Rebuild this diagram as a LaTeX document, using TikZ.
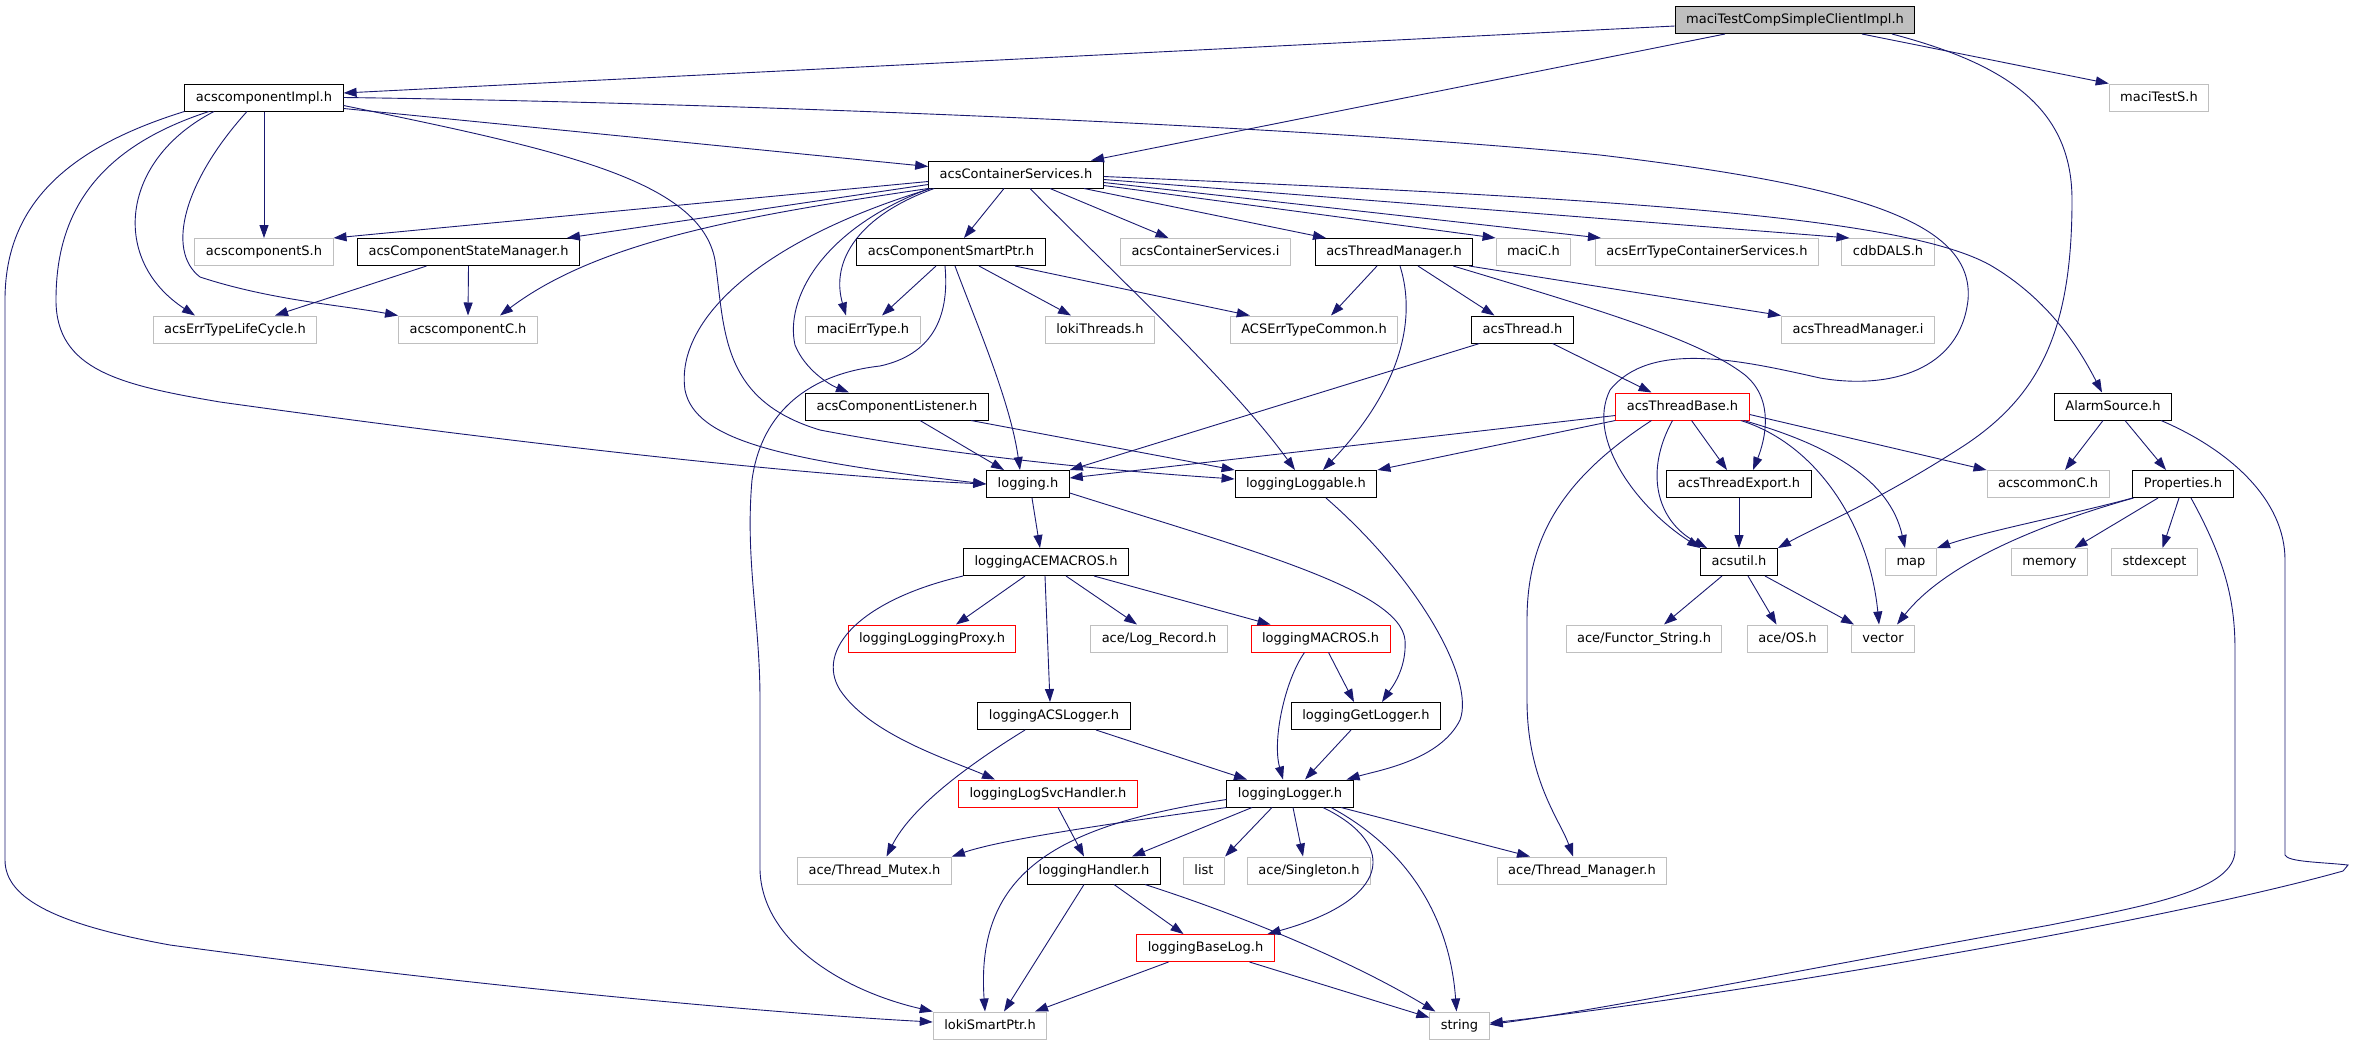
\documentclass[tikz,border=0pt]{standalone}
\usepackage{fontspec}
\setmainfont{DejaVu Sans}
\usepackage{tikz}
\usetikzlibrary{arrows.meta}
\definecolor{edgeblue}{HTML}{191970}
\definecolor{extgray}{HTML}{BFBFBF}
\tikzstyle{docfile} = [rectangle, draw=black, fill=white, line width=1pt, minimum height=27pt, inner xsep=11pt, text height=9.5pt, text depth=2.5pt, font=\fontsize{13pt}{15pt}\selectfont]
\tikzstyle{extfile} = [docfile, draw=extgray]
\tikzstyle{cutfile} = [docfile, draw=red]
\tikzstyle{mainfile} = [docfile, fill=extgray]
\tikzstyle{arrow} = [draw=edgeblue, line width=0.9pt, -{Triangle[length=13pt,width=9pt]}]

\begin{document}
\begin{tikzpicture}[x=1pt, y=-1pt]
        \useasboundingbox (0,0) rectangle (2355,1045);
        \node (simpleClient) [mainfile] at (1795,20) {maciTestCompSimpleClientImpl.h};
        \node (testS) [extfile] at (2159,97.5) {maciTestS.h};
        \node (compImpl) [docfile] at (264,97.5) {acscomponentImpl.h};
        \node (contServices) [docfile] at (1016,174.5) {acsContainerServices.h};
        \node (compS) [extfile] at (264,252) {acscomponentS.h};
        \node (stateMgr) [docfile] at (468.5,252) {acsComponentStateManager.h};
        \node (smartPtr) [docfile] at (951,252) {acsComponentSmartPtr.h};
        \node (contServicesI) [extfile] at (1205.5,252) {acsContainerServices.i};
        \node (threadMgr) [docfile] at (1394,252) {acsThreadManager.h};
        \node (maciC) [extfile] at (1533.5,252) {maciC.h};
        \node (errContServices) [extfile] at (1707,252) {acsErrTypeContainerServices.h};
        \node (cdbDALS) [extfile] at (1888,252) {cdbDALS.h};
        \node (errLifeCycle) [extfile] at (235,329.5) {acsErrTypeLifeCycle.h};
        \node (compC) [extfile] at (468,329.5) {acscomponentC.h};
        \node (maciErrType) [extfile] at (863,329.5) {maciErrType.h};
        \node (lokiThreads) [extfile] at (1100,329.5) {lokiThreads.h};
        \node (errCommon) [extfile] at (1314,329.5) {ACSErrTypeCommon.h};
        \node (acsThread) [docfile] at (1522.5,329.5) {acsThread.h};
        \node (threadMgrI) [extfile] at (1858,329.5) {acsThreadManager.i};
        \node (compListener) [docfile] at (897,406.5) {acsComponentListener.h};
        \node (threadBase) [cutfile] at (1682.5,406.5) {acsThreadBase.h};
        \node (alarmSource) [docfile] at (2113,406.5) {AlarmSource.h};
        \node (logging) [docfile] at (1028,484) {logging.h};
        \node (loggable) [docfile] at (1306,484) {loggingLoggable.h};
        \node (threadExport) [docfile] at (1739,484) {acsThreadExport.h};
        \node (commonC) [extfile] at (2048,484) {acscommonC.h};
        \node (properties) [docfile] at (2183,484) {Properties.h};
        \node (aceMacros) [docfile] at (1046,562) {loggingACEMACROS.h};
        \node (acsutil) [docfile] at (1739,562) {acsutil.h};
        \node (stdMap) [extfile] at (1911,562) {map};
        \node (stdMemory) [extfile] at (2049.5,562) {memory};
        \node (stdExcept) [extfile] at (2154.5,562) {stdexcept};
        \node (loggingProxy) [cutfile] at (932,638.5) {loggingLoggingProxy.h};
        \node (logRecord) [extfile] at (1159,638.5) {ace/Log\_Record.h};
        \node (loggingMacros) [cutfile] at (1320.5,638.5) {loggingMACROS.h};
        \node (functorString) [extfile] at (1644,638.5) {ace/Functor\_String.h};
        \node (aceOS) [extfile] at (1787.5,638.5) {ace/OS.h};
        \node (stdVector) [extfile] at (1883,638.5) {vector};
        \node (acsLogger) [docfile] at (1054,716) {loggingACSLogger.h};
        \node (getLogger) [docfile] at (1366,716) {loggingGetLogger.h};
        \node (logSvcHandler) [cutfile] at (1048,793.5) {loggingLogSvcHandler.h};
        \node (logger) [docfile] at (1290,793.5) {loggingLogger.h};
        \node (threadMutex) [extfile] at (874.5,870.5) {ace/Thread\_Mutex.h};
        \node (handler) [docfile] at (1094,870.5) {loggingHandler.h};
        \node (stdList) [extfile] at (1204,870.5) {list};
        \node (singleton) [extfile] at (1309,870.5) {ace/Singleton.h};
        \node (threadManagerAce) [extfile] at (1582,870.5) {ace/Thread\_Manager.h};
        \node (baseLog) [cutfile] at (1205.5,948) {loggingBaseLog.h};
        \node (lokiSmartPtr) [extfile] at (990,1025.5) {lokiSmartPtr.h};
        \node (stdString) [extfile] at (1459.5,1025.5) {string};

        \draw [arrow] ([yshift=-6pt]simpleClient.west) -- ([yshift=4.5pt]compImpl.east);
        \draw [arrow] ([xshift=-70pt]simpleClient.south) -- ([xshift=75pt]contServices.north);
        \draw [arrow] ([xshift=67pt]simpleClient.south) -- (testS.north west);
        \draw [arrow] ([xshift=97pt]simpleClient.south) .. controls (2010,65) and (2072,110) .. (2072,200) .. controls (2072,330) and (2040,395) .. (1965,445) .. controls (1880,500) and (1820,525) .. (acsutil.north east);

        \draw [arrow] (compImpl.south) -- (compS.north);
        \draw [arrow] ([xshift=-50pt]compImpl.south) .. controls (120,160) and (110,260) .. ([xshift=-40pt]errLifeCycle.north);
        \draw [arrow] ([xshift=-17pt]compImpl.south) .. controls (185,180) and (165,250) .. (200,277) .. controls (270,300) and (340,305) .. (compC.north west);
        \draw [arrow] ([xshift=-55pt]compImpl.south) .. controls (90,150) and (56,220) .. (56,300) .. controls (56,370) and (120,385) .. (220,402) .. controls (600,455) and (850,478) .. (logging.west);
        \draw [arrow] (compImpl.south west) .. controls (60,150) and (5,210) .. (5,300) -- (5,860) .. controls (5,900) and (60,925) .. (170,945) .. controls (500,990) and (800,1015) .. ([yshift=3.5pt]lokiSmartPtr.west);
        \draw [arrow] ([yshift=-8pt]compImpl.east) .. controls (560,150) and (700,180) .. (715,260) .. controls (725,330) and (720,400) .. (820,430) .. controls (950,455) and (1100,470) .. ([yshift=5pt]loggable.west);
        \draw [arrow] ([yshift=-11pt]compImpl.east) -- ([yshift=8pt]contServices.west);
        \draw [arrow] (compImpl.east) .. controls (700,102) and (1300,125) .. (1600,155) .. controls (1850,185) and (1975,220) .. (1968,300) .. controls (1960,370) and (1890,390) .. (1820,378) .. controls (1740,360) and (1650,340) .. (1610,390) .. controls (1585,440) and (1640,510) .. (acsutil.north west);

        \draw [arrow] ([yshift=-7pt]contServices.west) -- (compS.north east);
        \draw [arrow] ([yshift=-10pt]contServices.west) -- ([xshift=-13pt]stateMgr.north east);
        \draw [arrow] (contServices.south west) .. controls (750,215) and (600,240) .. ([xshift=32pt]compC.north);
        \draw [arrow] ([xshift=3pt]contServices.south west) .. controls (760,240) and (675,320) .. (685,390) .. controls (695,440) and (780,460) .. (logging.west);
        \draw [arrow] ([xshift=6pt]contServices.south west) .. controls (860,215) and (830,260) .. ([xshift=-17pt]maciErrType.north);
        \draw [arrow] ([xshift=1pt]contServices.south west) .. controls (820,230) and (785,300) .. (795,345) .. controls (805,370) and (830,385) .. ([xshift=-48pt]compListener.north);
        \draw [arrow] ([xshift=-12pt]contServices.south) -- ([xshift=13pt]smartPtr.north);
        \draw [arrow] ([xshift=14pt]contServices.south) .. controls (1100,260) and (1230,380) .. ([xshift=-11pt]loggable.north);
        \draw [arrow] ([xshift=34pt]contServices.south) -- ([xshift=-37pt]contServicesI.north);
        \draw [arrow] ([xshift=68pt]contServices.south) -- ([xshift=-68pt]threadMgr.north);
        \draw [arrow] ([yshift=-11pt]contServices.east) -- (maciC.north west);
        \draw [arrow] ([yshift=-8pt]contServices.east) -- ([xshift=6pt]errContServices.north west);
        \draw [arrow] ([yshift=-5pt]contServices.east) -- ([xshift=8pt]cdbDALS.north west);
        \draw [arrow] ([yshift=-2pt]contServices.east) .. controls (1600,198) and (1900,215) .. (1990,265) .. controls (2050,300) and (2080,350) .. ([xshift=-11pt]alarmSource.north);

        \draw [arrow] ([xshift=-15pt]smartPtr.south) -- ([xshift=19pt]maciErrType.north);
        \draw [arrow] ([xshift=28pt]smartPtr.south) -- ([xshift=-29pt]lokiThreads.north);
        \draw [arrow] ([xshift=64pt]smartPtr.south) -- ([xshift=20pt]errCommon.north west);
        \draw [arrow] ([xshift=4pt]smartPtr.south) .. controls (975,320) and (1010,400) .. ([xshift=-8pt]logging.north);
        \draw [arrow] ([xshift=-6pt]smartPtr.south) .. controls (950,320) and (930,355) .. (880,366) .. controls (800,375) and (760,420) .. (752,480) .. controls (745,560) and (760,620) .. (760,700) -- (760,870) .. controls (762,940) and (840,990) .. (lokiSmartPtr.north west);

        \draw [arrow] ([xshift=-42pt]stateMgr.south) -- ([xshift=40pt]errLifeCycle.north);
        \draw [arrow] (stateMgr.south) -- (compC.north);

        \draw [arrow] ([xshift=-17pt]threadMgr.south) -- ([xshift=17pt]errCommon.north);
        \draw [arrow] ([xshift=6pt]threadMgr.south) .. controls (1420,330) and (1390,400) .. ([xshift=17pt]loggable.north);
        \draw [arrow] ([xshift=24pt]threadMgr.south) -- ([xshift=-28pt]acsThread.north);
        \draw [arrow] ([xshift=-4pt]threadMgr.south east) -- (threadMgrI.north west);
        \draw [arrow] ([xshift=-20pt]threadMgr.south east) .. controls (1600,310) and (1700,340) .. (1745,375) .. controls (1775,400) and (1765,440) .. ([xshift=14pt]threadExport.north);

        \draw [arrow] ([xshift=30pt]acsThread.south) -- ([xshift=-31pt]threadBase.north);
        \draw [arrow] ([xshift=-43pt]acsThread.south) -- (logging.north east);

        \draw [arrow] ([yshift=-9pt]threadBase.west) -- ([yshift=6pt]logging.east);
        \draw [arrow] (threadBase.south west) -- (loggable.north east);
        \draw [arrow] ([xshift=9pt]threadBase.south) -- ([xshift=-12pt]threadExport.north);
        \draw [arrow] ([xshift=-10pt]threadBase.south) .. controls (1645,470) and (1655,520) .. ([xshift=-32pt]acsutil.north);
        \draw [arrow] ([xshift=-6pt]threadBase.south east) .. controls (1830,445) and (1890,480) .. ([xshift=-6pt]stdMap.north);
        \draw [arrow] ([xshift=-9pt]threadBase.south east) .. controls (1820,445) and (1870,530) .. ([xshift=-4pt]stdVector.north);
        \draw [arrow] ([yshift=-8pt]threadBase.east) -- (commonC.north west);
        \draw [arrow] ([xshift=-31pt]threadBase.south) .. controls (1560,480) and (1527,540) .. (1527,620) -- (1527,700) .. controls (1527,780) and (1560,820) .. ([xshift=-9pt]threadManagerAce.north);

        \draw [arrow] ([xshift=-10pt]alarmSource.south) -- ([xshift=17pt]commonC.north);
        \draw [arrow] ([xshift=12pt]alarmSource.south) -- ([xshift=-17pt]properties.north);
        \draw [arrow] ([xshift=48pt]alarmSource.south) .. controls (2230,450) and (2285,500) .. (2285,560) -- (2285,855) .. controls (2288,862) and (2320,862) .. (2348,865) -- (2343,871) .. controls (2150,925) and (1700,1000) .. ([yshift=2.5pt]stdString.east);

        \draw [arrow] (properties.south west) .. controls (2070,515) and (1990,530) .. (stdMap.north east);
        \draw [arrow] ([xshift=1pt]properties.south west) .. controls (2020,530) and (1940,570) .. ([xshift=14pt]stdVector.north);
        \draw [arrow] ([xshift=-25pt]properties.south) -- ([xshift=25pt]stdMemory.north);
        \draw [arrow] ([xshift=-4pt]properties.south) -- ([xshift=8pt]stdExcept.north);
        \draw [arrow] ([xshift=8pt]properties.south) .. controls (2225,560) and (2235,600) .. (2235,650) -- (2235,850) .. controls (2235,890) and (2150,905) .. (2050,925) .. controls (1800,970) and (1600,1010) .. ([yshift=1pt]stdString.east);

        \draw [arrow] ([xshift=-17pt]acsutil.south) -- ([xshift=20pt]functorString.north);
        \draw [arrow] ([xshift=9pt]acsutil.south) -- ([xshift=-11pt]aceOS.north);
        \draw [arrow] ([xshift=26pt]acsutil.south) -- ([xshift=-29pt]stdVector.north);
        \draw [arrow] (threadExport.south) -- (acsutil.north);

        \draw [arrow] ([xshift=4pt]logging.south) -- ([xshift=-6pt]aceMacros.north);
        \draw [arrow] ([yshift=-9pt]logging.east) .. controls (1250,550) and (1400,590) .. (1405,640) .. controls (1407,670) and (1390,690) .. ([xshift=16pt]getLogger.north);
        \draw [arrow] ([xshift=20pt]loggable.south) .. controls (1420,580) and (1475,680) .. (1460,720) .. controls (1440,760) and (1380,770) .. ([xshift=-7pt]logger.north east);
        \draw [arrow] ([xshift=23pt]compListener.south) -- ([xshift=-24pt]logging.north);
        \draw [arrow] ([xshift=74pt]compListener.south) -- (loggable.north west);

        \draw [arrow] ([xshift=-21pt]aceMacros.south) -- ([xshift=24pt]loggingProxy.north);
        \draw [arrow] ([xshift=20pt]aceMacros.south) -- ([xshift=-22pt]logRecord.north);
        \draw [arrow] ([xshift=48pt]aceMacros.south) -- ([xshift=-50pt]loggingMacros.north);
        \draw [arrow] ([xshift=-1pt]aceMacros.south) -- ([xshift=-4pt]acsLogger.north);
        \draw [arrow] (aceMacros.south west) .. controls (860,600) and (815,650) .. (840,690) .. controls (870,735) and (950,760) .. ([xshift=-53pt]logSvcHandler.north);

        \draw [arrow] ([xshift=8pt]loggingMacros.south) -- ([xshift=-12pt]getLogger.north);
        \draw [arrow] ([xshift=-16pt]loggingMacros.south) .. controls (1285,680) and (1272,740) .. ([xshift=-7pt]logger.north);
        \draw [arrow] ([xshift=-15pt]getLogger.south) -- ([xshift=15pt]logger.north);
        \draw [arrow] ([xshift=42pt]acsLogger.south) -- ([xshift=-43pt]logger.north);
        \draw [arrow] ([xshift=-29pt]acsLogger.south) .. controls (960,770) and (910,810) .. ([xshift=12pt]threadMutex.north);
        \draw [arrow] ([xshift=10pt]logSvcHandler.south) -- ([xshift=-10pt]handler.north);

        \draw [arrow] (logger.south west) .. controls (1100,825) and (1000,840) .. (threadMutex.north east);
        \draw [arrow] ([yshift=-6pt]logger.west) .. controls (1060,825) and (975,870) .. ([xshift=-5pt]lokiSmartPtr.north);
        \draw [arrow] ([xshift=-38pt]logger.south) -- ([xshift=38pt]handler.north);
        \draw [arrow] ([xshift=-18pt]logger.south) -- (stdList.north east);
        \draw [arrow] ([xshift=3pt]logger.south) -- ([xshift=-6pt]singleton.north);
        \draw [arrow] ([xshift=33pt]logger.south) .. controls (1400,845) and (1390,900) .. ([xshift=62pt]baseLog.north);
        \draw [arrow] ([xshift=41pt]logger.south) .. controls (1410,850) and (1450,920) .. ([xshift=-3pt]stdString.north);
        \draw [arrow] ([xshift=51pt]logger.south) -- ([xshift=-52pt]threadManagerAce.north);

        \draw [arrow] ([xshift=20pt]handler.south) -- ([xshift=-22pt]baseLog.north);
        \draw [arrow] ([xshift=-10pt]handler.south) -- ([xshift=14pt]lokiSmartPtr.north);
        \draw [arrow] ([xshift=51pt]handler.south) .. controls (1240,915) and (1350,960) .. ([xshift=6pt]stdString.north west);
        \draw [arrow] ([xshift=-37pt]baseLog.south) -- ([xshift=45pt]lokiSmartPtr.north);
        \draw [arrow] ([xshift=44pt]baseLog.south) -- ([yshift=8pt]stdString.west);
    \end{tikzpicture}
\end{document}
